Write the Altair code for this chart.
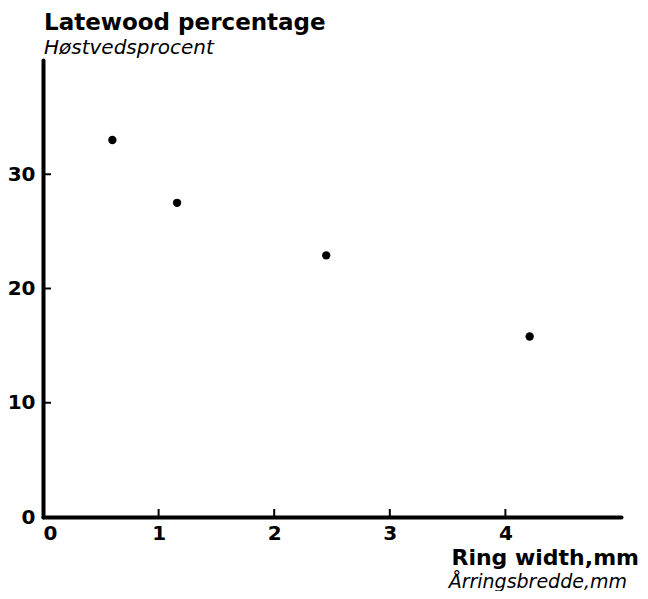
import altair as alt
import pandas as pd

# data
ring_width = [0.6, 1.16, 2.45, 4.21]
latewood_pct = [33.0, 27.5, 22.9, 15.8]
x_label_values = [0, 1, 2, 3, 4]
y_label_values = [0, 10, 20, 30]
x_inner_ticks = [1, 2, 3, 4]
y_inner_ticks = [10, 20, 30]

y_title = ["Latewood percentage"]
y_subtitle = ["Høstvedsprocent"]
x_title = ["Ring width,mm"]
x_subtitle = ["Årringsbredde,mm"]

W, H = 578, 457
FONT = "DejaVu Sans"

pts = pd.DataFrame({"x": ring_width, "y": latewood_pct})
xscale = alt.Scale(domain=[0, 5], nice=False)
yscale = alt.Scale(domain=[0, 40], nice=False)

axis_common = dict(
    title=None, grid=False, ticks=False, tickSize=0,
    domainColor="black", domainWidth=4, domainCap="round",
    labelFont=FONT, labelFontSize=20, labelFontWeight="bold", labelColor="black",
)
x_axis = alt.Axis(values=x_label_values, labelPadding=6, **axis_common)
y_axis = alt.Axis(values=y_label_values, labelPadding=8, **axis_common)

points = alt.Chart(pts).mark_circle(size=70, color="black", opacity=1).encode(
    x=alt.X("x:Q", scale=xscale, axis=x_axis),
    y=alt.Y("y:Q", scale=yscale, axis=y_axis),
)

xt = alt.Chart(pd.DataFrame({"v": x_inner_ticks})).mark_rule(
    color="black", strokeWidth=2).encode(
    x=alt.X("v:Q", scale=xscale, axis=x_axis),
    y=alt.value(H), y2=alt.value(H - 8),
)
yt = alt.Chart(pd.DataFrame({"v": y_inner_ticks})).mark_rule(
    color="black", strokeWidth=2).encode(
    y=alt.Y("v:Q", scale=yscale, axis=y_axis),
    x=alt.value(0), x2=alt.value(8),
)


def label(texts, x, y, size, weight, style, align):
    return alt.Chart(pd.DataFrame({"t": texts})).mark_text(
        font=FONT, fontSize=size, fontWeight=weight, fontStyle=style,
        align=align, baseline="alphabetic", color="black",
    ).encode(text="t:N", x=alt.value(x), y=alt.value(y))


t1 = label(y_title, 1, -30, 23, "bold", "normal", "left")
t2 = label(y_subtitle, 1, -6, 20, "normal", "italic", "left")
t3 = label(x_title, 596, 505, 22, "bold", "normal", "right")
t4 = label(x_subtitle, 584, 528, 19, "normal", "italic", "right")

chart = alt.layer(points, xt, yt, t1, t2, t3, t4).properties(
    width=W, height=H,
    autosize=alt.AutoSizeParams(type="none"),
    padding={"left": 35, "top": 52, "right": 19, "bottom": 74},
    background="white",
).configure_view(stroke=None)

chart.save("out.html", embed_options={"renderer": "svg", "actions": False})
